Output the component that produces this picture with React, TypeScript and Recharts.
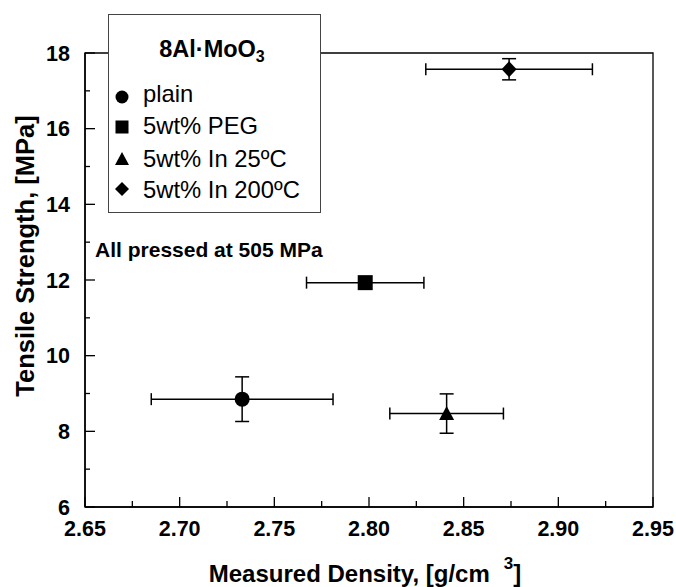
import React from 'react';
import {
  ScatterChart,
  Scatter,
  XAxis,
  YAxis,
  ErrorBar,
  Legend,
  ReferenceArea,
  ReferenceDot,
  Label,
} from 'recharts';

// ---------- data ----------
const seriesNames = ['plain', '5wt% PEG', '5wt% In 25ºC', '5wt% In 200ºC'];
const densities = [2.733, 2.798, 2.841, 2.874];
const densityErr = [0.048, 0.031, 0.03, 0.044];
const strengths = [8.85, 11.93, 8.47, 17.57];
const strengthErr = [0.59, 0, 0.52, 0.28];

const xTicks = [2.65, 2.675, 2.7, 2.725, 2.75, 2.775, 2.8, 2.825, 2.85, 2.875, 2.9, 2.925, 2.95];
const yTicks = [6, 7, 8, 9, 10, 11, 12, 13, 14, 15, 16, 17, 18];
const xDomain = [2.65, 2.95];
const yDomain = [6, 18];

const legendTitle = '8Al·MoO';
const legendTitleSub = '3';
const annotationText = 'All pressed at 505 MPa';
const annotationPos = { x: 2.6553, y: 12.8 };
const xLabel = 'Measured Density, [g/cm';
const yLabel = 'Tensile Strength, [MPa]';

const FONT = "'Liberation Sans', Arial, Helvetica, sans-serif";

const seriesData = seriesNames.map((name, i) => [
  { x: densities[i], y: strengths[i], xErr: densityErr[i], yErr: strengthErr[i] },
]);

// ---------- shapes ----------
const CircleShape = (p: any) => <circle cx={p.cx} cy={p.cy} r={7.5} fill="#000" />;
const SquareShape = (p: any) => <rect x={p.cx - 7.5} y={p.cy - 7.5} width={15} height={15} fill="#000" />;
const TriangleShape = (p: any) => (
  <polygon
    points={`${p.cx},${p.cy - 7.5} ${p.cx - 7.5},${p.cy + 6.5} ${p.cx + 7.5},${p.cy + 6.5}`}
    fill="#000"
  />
);
const DiamondShape = (p: any) => (
  <polygon
    points={`${p.cx},${p.cy - 8} ${p.cx + 7.5},${p.cy} ${p.cx},${p.cy + 8} ${p.cx - 7.5},${p.cy}`}
    fill="#000"
  />
);
const shapes = [CircleShape, SquareShape, TriangleShape, DiamondShape];

// ---------- ticks ----------
const XTick = (p: any) => {
  const major = p.index % 2 === 0;
  return (
    <g>
      <line x1={p.x} y1={p.y} x2={p.x} y2={p.y - (major ? 10 : 6)} stroke="#000" strokeWidth={1.3} />
      {major && (
        <text x={p.x} y={p.y + 29} textAnchor="middle" fontSize={21.5} fontWeight="bold" fontFamily={FONT} fill="#000">
          {Number(p.payload.value).toFixed(2)}
        </text>
      )}
    </g>
  );
};

const YTick = (p: any) => {
  const major = Math.round(p.payload.value) % 2 === 0;
  return (
    <g>
      <line x1={p.x} y1={p.y} x2={p.x + (major ? 10 : 5)} y2={p.y} stroke="#000" strokeWidth={1.3} />
      {major && (
        <text x={p.x - 15} y={p.y + 7.5} textAnchor="end" fontSize={21.5} fontWeight="bold" fontFamily={FONT} fill="#000">
          {p.payload.value}
        </text>
      )}
    </g>
  );
};

// ---------- legend ----------
const legendMarker = (i: number, cx: number, cy: number) => {
  if (i === 0) return <circle cx={cx} cy={cy} r={6.5} fill="#000" />;
  if (i === 1) return <rect x={cx - 6.5} y={cy - 6.5} width={13} height={13} fill="#000" />;
  if (i === 2)
    return <polygon points={`${cx},${cy - 7} ${cx - 7},${cy + 6} ${cx + 7},${cy + 6}`} fill="#000" />;
  return <polygon points={`${cx},${cy - 7} ${cx + 7},${cy} ${cx},${cy + 7} ${cx - 7},${cy}`} fill="#000" />;
};

const rowMarkerY = [83, 113, 145, 175];
const rowTextY = [88, 120, 153, 184];

const LegendBox = () => (
  <svg width={213} height={199} style={{ display: 'block' }}>
    <rect x={0.5} y={0.5} width={212} height={198} fill="#fff" stroke="#444" strokeWidth={1} />
    <text x={104} y={43} textAnchor="middle" fontSize={23.5} fontWeight="bold" fontFamily={FONT} fill="#000">
      {legendTitle}
      <tspan fontSize={16} dy={5}>{legendTitleSub}</tspan>
    </text>
    {seriesNames.map((name, i) => (
      <g key={name}>
        {legendMarker(i, 14, rowMarkerY[i])}
        <text x={35} y={rowTextY[i]} fontSize={23.8} fontFamily={FONT} fill="#000">
          {name}
        </text>
      </g>
    ))}
  </svg>
);

const AnnotationShape = (p: any) => (
  <text x={p.cx} y={p.cy + 7.5} fontSize={21} fontWeight="bold" fontFamily={FONT} fill="#000">
    {annotationText}
  </text>
);

export default function App() {
  return (
    <div style={{ position: 'absolute', left: 0, top: 0, width: 676, height: 587, background: '#fff' }}>
      <ScatterChart width={676} height={587} margin={{ top: 53, right: 23, bottom: 0, left: 0 }}>
        <XAxis
          type="number"
          dataKey="x"
          domain={xDomain}
          ticks={xTicks}
          interval={0}
          allowDataOverflow
          height={80}
          tickSize={0}
          tickMargin={0}
          tick={XTick}
          axisLine={{ stroke: '#000', strokeWidth: 1.5 }}
        >
          <Label
            content={(p: any) => {
              const vb = p.viewBox;
              return (
                <text
                  x={vb.x + vb.width / 2 - 4}
                  y={vb.y + 75}
                  textAnchor="middle"
                  fontSize={24}
                  fontWeight="bold"
                  fontFamily={FONT}
                  fill="#000"
                >
                  {xLabel}
                  <tspan dx={14} dy={-13} fontSize={17}>3</tspan>
                  <tspan dy={13}>]</tspan>
                </text>
              );
            }}
          />
        </XAxis>
        <YAxis
          type="number"
          dataKey="y"
          domain={yDomain}
          ticks={yTicks}
          interval={0}
          allowDataOverflow
          width={85}
          tickSize={0}
          tickMargin={0}
          tick={YTick}
          axisLine={{ stroke: '#000', strokeWidth: 1.5 }}
        >
          <Label
            content={(p: any) => {
              const vb = p.viewBox;
              const cx = vb.x + 34;
              const cy = vb.y + vb.height / 2 - 24;
              return (
                <text
                  x={cx}
                  y={cy}
                  transform={`rotate(-90, ${cx}, ${cy})`}
                  textAnchor="middle"
                  fontSize={25.5}
                  fontWeight="bold"
                  fontFamily={FONT}
                  fill="#000"
                >
                  {yLabel}
                </text>
              );
            }}
          />
        </YAxis>
        <ReferenceArea
          x1={xDomain[0]}
          x2={xDomain[1]}
          y1={yDomain[0]}
          y2={yDomain[1]}
          fill="none"
          fillOpacity={0}
          stroke="#000"
          strokeWidth={1.3}
        />
        <ReferenceDot x={annotationPos.x} y={annotationPos.y} r={0} shape={AnnotationShape} />
        {seriesNames.map((name, i) => (
          <Scatter
            key={name}
            name={name}
            data={seriesData[i]}
            shape={shapes[i]}
            isAnimationActive={false}
          >
            <ErrorBar dataKey="xErr" direction="x" width={6} stroke="#000" strokeWidth={1.5} />
            {strengthErr[i] > 0 && (
              <ErrorBar dataKey="yErr" direction="y" width={7} stroke="#000" strokeWidth={1.5} />
            )}
          </Scatter>
        ))}
        <Legend
          layout="vertical"
          align="center"
          verticalAlign="middle"
          content={() => <LegendBox />}
          wrapperStyle={{ left: 108, top: 14, width: 213, height: 199, right: 'auto', bottom: 'auto' }}
        />
      </ScatterChart>
    </div>
  );
}
